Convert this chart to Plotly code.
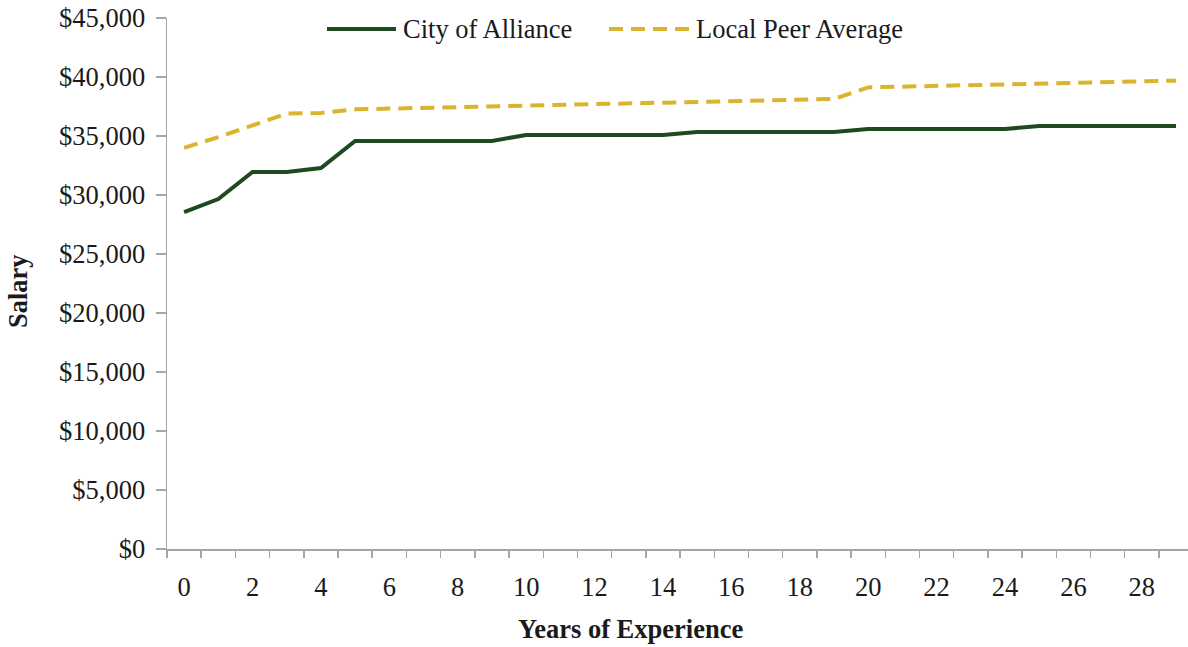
import plotly.graph_objects as go

years = list(range(0, 30))
city_of_alliance = [28550, 29660, 31950, 31950, 32290, 34580, 34580, 34580, 34580, 34580,
                    35090, 35090, 35090, 35090, 35090, 35340, 35340, 35340, 35340, 35340,
                    35590, 35590, 35590, 35590, 35590, 35850, 35850, 35850, 35850, 35850]
local_peer_average = [34000, 34900, 35900, 36900, 36950, 37260, 37320, 37380, 37440, 37500,
                      37560, 37620, 37680, 37740, 37800, 37870, 37930, 38000, 38070, 38140,
                      39120, 39180, 39240, 39300, 39360, 39420, 39480, 39540, 39610, 39690]
x_tick_labels = [str(v) for v in range(0, 29, 2)]
y_tick_values = list(range(0, 45001, 5000))
y_tick_labels = ["$0", "$5,000", "$10,000", "$15,000", "$20,000",
                 "$25,000", "$30,000", "$35,000", "$40,000", "$45,000"]

GREEN = "#1E4A22"
GOLD = "#DAB42F"
FONT = "Liberation Serif"
FS = 26.5
TXT = "#1a1a1a"

fig = go.Figure()
fig.add_trace(go.Scatter(x=years, y=city_of_alliance, mode="lines", name="City of Alliance",
                         line=dict(color=GREEN, width=4)))
fig.add_trace(go.Scatter(x=years, y=local_peer_average, mode="lines", name="Local Peer Average",
                         line=dict(color=GOLD, width=4, dash="14px,8px")))

W, H = 1188, 647
L, R, T, B = 167, 0, 18, 647 - 549
pw, ph = W - L - R, H - T - B

def px(xs):
    return (xs - L) / pw

def py(ys):
    return (H - B - ys) / ph

fig.update_layout(
    width=W, height=H,
    margin=dict(l=L, r=R, t=T, b=B),
    paper_bgcolor="white", plot_bgcolor="white",
    showlegend=False,
    font=dict(family=FONT, size=FS, color=TXT),
    xaxis=dict(
        range=[-0.5, 29.35],
        tickvals=[int(v) for v in x_tick_labels], ticktext=x_tick_labels,
        ticks="", showgrid=False, zeroline=False, ticklabelstandoff=14,
        showline=True, linecolor="#a6a6a6", linewidth=1.5,
        minor=dict(tick0=-0.5, dtick=1, ticks="outside", ticklen=7,
                   tickcolor="#a6a6a6", tickwidth=1.5, showgrid=False),
        tickfont=dict(family=FONT, size=FS, color=TXT),
    ),
    yaxis=dict(
        range=[0, 45000], tickvals=y_tick_values, ticktext=y_tick_labels,
        ticks="outside", ticklen=10, tickcolor="#a6a6a6", tickwidth=1.5,
        ticklabelstandoff=5, ticklabeloverflow="allow",
        showgrid=False, zeroline=False,
        showline=True, linecolor="#a6a6a6", linewidth=1.5,
        tickfont=dict(family=FONT, size=FS, color=TXT),
    ),
)

# Axis titles
fig.add_annotation(text="<b>Years of Experience</b>", xref="paper", yref="paper",
                   x=px(630), y=py(629), showarrow=False, xanchor="center", yanchor="middle",
                   font=dict(family=FONT, size=FS, color=TXT))
fig.add_annotation(text="<b>Salary</b>", xref="paper", yref="paper", textangle=-90,
                   x=px(18), y=py(291), showarrow=False, xanchor="center", yanchor="middle",
                   font=dict(family=FONT, size=FS, color=TXT))

# Legend (drawn manually)
ly = py(29)
fig.add_shape(type="line", xref="paper", yref="paper", x0=px(327), x1=px(396), y0=ly, y1=ly,
              line=dict(color=GREEN, width=4))
fig.add_annotation(text="City of Alliance", xref="paper", yref="paper", x=px(401), y=ly,
                   showarrow=False, xanchor="left", yanchor="middle",
                   font=dict(family=FONT, size=FS, color=TXT))
fig.add_shape(type="line", xref="paper", yref="paper", x0=px(609), x1=px(689), y0=ly, y1=ly,
              line=dict(color=GOLD, width=4, dash="14px,8px"))
fig.add_annotation(text="Local Peer Average", xref="paper", yref="paper", x=px(694), y=ly,
                   showarrow=False, xanchor="left", yanchor="middle",
                   font=dict(family=FONT, size=FS, color=TXT))

fig.write_html("out.html",
               config={"displayModeBar": False, "staticPlot": True},
               post_script="document.body.style.margin='0px';document.body.style.overflow='hidden';")
